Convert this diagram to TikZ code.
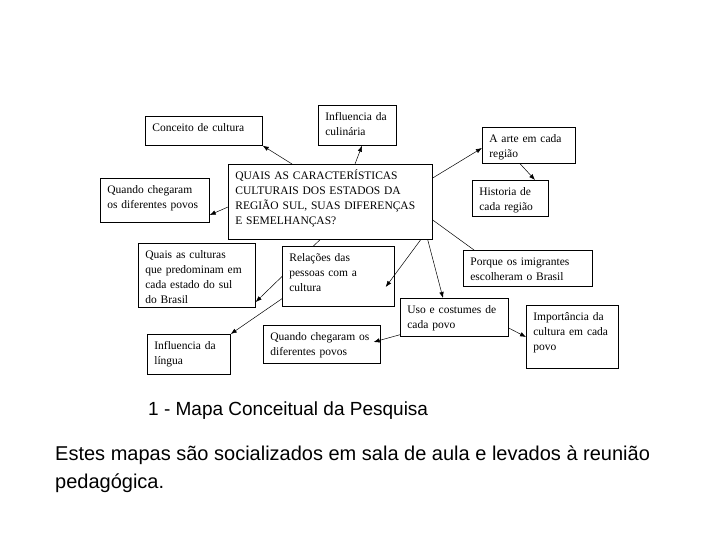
\documentclass[tikz,border=0pt]{standalone}
\usepackage{fontspec}
\setmainfont{Liberation Serif}
\setsansfont{Liberation Sans}
\usetikzlibrary{arrows.meta}
\pgfdeclarelayer{background}
\pgfsetlayers{background,main}

\begin{document}
\begin{tikzpicture}[x=1pt, y=-1pt,
  caixa/.style 2 args={draw, fill=white, line width=0.7pt, anchor=north west,
    align=left, inner xsep=7pt, inner ysep=0pt, text width={(#1-14)*1pt},
    text height=15.5pt, text depth={(#2-15.5)*1pt},
    font=\fontsize{11.5}{15}\selectfont},
  seta/.style={-{Latex[length=6pt, width=4.5pt]}, line width=0.5pt}]
  \useasboundingbox (0,0) rectangle (728,546);
  \node[caixa={117}{29}] (conceito) at (145,116) {Conceito de cultura};
  \node[caixa={78}{40}] (culinaria) at (318,105) {Influencia da\\culinária};
  \node[caixa={93}{36}] (arte) at (482,127) {A arte em cada\\região};
  \node[caixa={204}{75}] (questao) at (228,164)
    {QUAIS AS CARACTERÍSTICAS\\CULTURAIS DOS ESTADOS DA\\REGIÃO SUL, SUAS DIFERENÇAS\\E SEMELHANÇAS?};
  \node[caixa={109}{44}] (chegada) at (100,178) {Quando chegaram\\os diferentes povos};
  \node[caixa={76}{36}] (historia) at (472,180) {Historia de\\cada região};
  \node[caixa={117}{64}] (quais) at (138,243)
    {Quais as culturas\\que predominam em\\cada estado do sul\\do Brasil};
  \node[caixa={112}{60}] (relacoes) at (282,246) {Relações das\\pessoas com a\\cultura};
  \node[caixa={129}{36}] (imigrantes) at (463,250) {Porque os imigrantes\\escolheram o Brasil};
  \node[caixa={108}{38}] (usos) at (400,298) {Uso e costumes de\\cada povo};
  \node[caixa={92}{63}] (importancia) at (526,305) {Importância da\\cultura em cada\\povo};
  \node[caixa={83}{40}] (lingua) at (147,334) {Influencia da\\língua};
  \node[caixa={117}{38}] (chegada2) at (263,325) {Quando chegaram os\\diferentes povos};

  \draw[seta] ([xshift=64pt]questao.north west) -- (conceito.south east);
  \draw[seta] ([xshift=127pt]questao.north west) -- ([xshift=44pt]culinaria.south west);
  \draw[seta] ([yshift=-14pt]questao.north east) -- ([yshift=-21pt]arte.north west);
  \draw[seta] ([xshift=38pt]arte.south west) -- ([xshift=63pt]historia.north west);
  \draw[seta] ([yshift=-43pt]questao.north west) -- ([yshift=-37pt]chegada.north east);
  \draw[line width=0.5pt] ([yshift=-56pt]questao.north east) -- ([xshift=11pt]imigrantes.north west);
  \draw[seta] ([xshift=-5pt]questao.south east) -- ([xshift=43pt]usos.north west);
  \draw[seta] ([xshift=-12pt]questao.south east) -- ([xshift=-9pt, yshift=-41pt]relacoes.north east);
  \begin{pgfonlayer}{background}
    \draw[seta] ([xshift=92pt]questao.south west) -- ([yshift=-59pt]quais.north east);
  \end{pgfonlayer}
  \draw[seta] ([yshift=8pt]relacoes.south west) -- (lingua.north east);
  \draw[seta] ([yshift=2pt]usos.south west) -- ([xshift=-7pt, yshift=-17pt]chegada2.north east);
  \draw[seta] ([yshift=-30pt]usos.north east) -- ([yshift=-32pt]importancia.north west);

  \node[anchor=base west, inner sep=0pt, font=\sffamily\fontsize{19}{23}\selectfont]
    (legenda) at (148,415) {1 - Mapa Conceitual da Pesquisa};
  \node[anchor=base west, inner sep=0pt, align=left, font=\sffamily\fontsize{20}{28}\selectfont]
    (texto) at (55,488) {Estes mapas são socializados em sala de aula e levados à reunião\\pedagógica.};
\end{tikzpicture}
\end{document}
